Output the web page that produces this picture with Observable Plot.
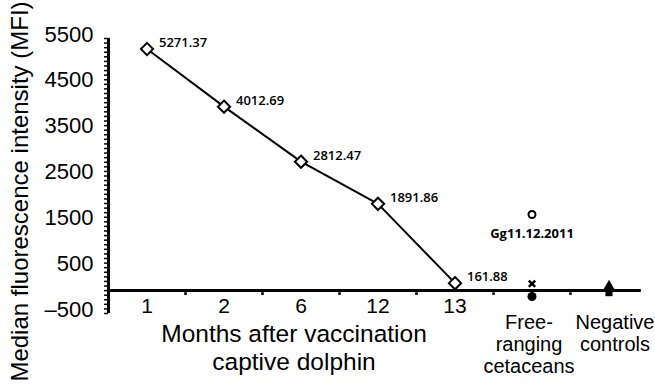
<!DOCTYPE html>
<html><head><meta charset="utf-8">
<script src="https://cdn.jsdelivr.net/npm/d3@7"></script>
<script src="https://cdn.jsdelivr.net/npm/@observablehq/plot@0.6"></script>
<style>body{margin:0;background:#fff}</style>
</head><body><div id="chart"></div>
<script>
const months = ["1", "2", "6", "12", "13"];
const monthMFI = [5271.37, 4012.69, 2812.47, 1891.86, 161.88];
const groupLabels = ["Free-\nranging\ncetaceans", "Negative\ncontrols"];
const outlierName = "Gg11.12.2011";
const outlierMFI = 1660;
const freeRangingMFI = [150, -130];   // cross, filled circle
const negativeMFI = [65, -45];        // triangle, square
const yTicks = [-500, 500, 1500, 2500, 3500, 4500, 5500];
const yMinor = d3.range(-500, 5501, 100);
const yTitle = "Median fluorescence intensity (MFI)";
const xTitle = "Months after vaccination\ncaptive dolphin";

const series = months.map((m, i) => ({i, month: m, mfi: monthMFI[i]}));
const freeIdx = months.length;
const negIdx = months.length + 1;
const boundaries = d3.range(0.5, months.length + 1, 1);
const labelFont = "'Open Sans', 'Noto Sans', sans-serif";

const chart = Plot.plot({
  width: 655, height: 385,
  marginLeft: 108, marginRight: 8, marginTop: 38, marginBottom: 72,
  style: {fontFamily: "'Liberation Sans', Arial, sans-serif", background: "white", color: "black"},
  x: {domain: [-0.5, 6.5], axis: null},
  y: {domain: [-500, 5500]},
  marks: [
    Plot.axisY({ticks: yMinor, tickSize: 4, tickFormat: () => "", strokeWidth: 1.5, label: null}),
    Plot.text(yTicks, {frameAnchor: "left", y: d => d, text: d => d < 0 ? "\u2013" + Math.abs(d) : String(d),
      textAnchor: "end", dx: -15, dy: -4, fontSize: 22}),
    Plot.ruleX([-0.5], {y1: -500, y2: 5500, strokeWidth: 3}),
    Plot.ruleY([0], {x1: -0.5, x2: 6.42, strokeWidth: 3}),
    Plot.dot(boundaries, {x: d => d, y: 0, dy: 3, symbol: "square", r: 1.5, fill: "black"}),
    Plot.line(series, {x: "i", y: "mfi", strokeWidth: 2, stroke: "black"}),
    Plot.dot(series, {x: "i", y: "mfi", symbol: "diamond2", r: 5.5, stroke: "black", fill: "white", strokeWidth: 2}),
    Plot.text(series, {x: "i", y: "mfi", text: d => d.mfi.toFixed(2), textAnchor: "start", dx: 12, dy: -6,
      fontSize: 13, fontWeight: 600, fontFamily: labelFont}),
    Plot.dot([outlierMFI], {x: () => freeIdx, y: d => d, r: 3.5, stroke: "black", fill: "white", strokeWidth: 2}),
    Plot.text([outlierMFI], {x: () => freeIdx, y: d => d, text: () => outlierName, dy: 19,
      fontSize: 13, fontWeight: 700, fontFamily: labelFont}),
    Plot.dot([freeRangingMFI[0]], {x: () => freeIdx, y: d => d, symbol: "times", r: 3, stroke: "black", strokeWidth: 2.5}),
    Plot.dot([freeRangingMFI[1]], {x: () => freeIdx, y: d => d, r: 4.5, fill: "black"}),
    Plot.dot([negativeMFI[0]], {x: () => negIdx, y: d => d, symbol: "triangle", r: 5, fill: "black"}),
    Plot.dot([negativeMFI[1]], {x: () => negIdx, y: d => d, symbol: "square", r: 4, fill: "black"}),
    Plot.text(months, {x: (d, i) => i, y: 0, text: d => d, lineAnchor: "top", dy: 7, fontSize: 21}),
    Plot.text([groupLabels[0]], {x: () => freeIdx, y: 0, text: d => d, lineAnchor: "top", dx: -3, dy: 23, fontSize: 20, lineHeight: 1.1}),
    Plot.text([groupLabels[1]], {x: () => negIdx, y: 0, text: d => d, lineAnchor: "top", dx: 6, dy: 23, fontSize: 20, lineHeight: 1.1}),
    Plot.text([xTitle], {x: 2, y: 0, text: d => d, lineAnchor: "top", dx: -7, dy: 32, fontSize: 24.5, lineHeight: 1.12}),
    Plot.text([yTitle], {frameAnchor: "left", text: d => d, textAnchor: "middle", rotate: -90, dx: -88, dy: 15.5, fontSize: 24})
  ]
});
document.getElementById("chart").appendChild(chart);
</script>
</body></html>
